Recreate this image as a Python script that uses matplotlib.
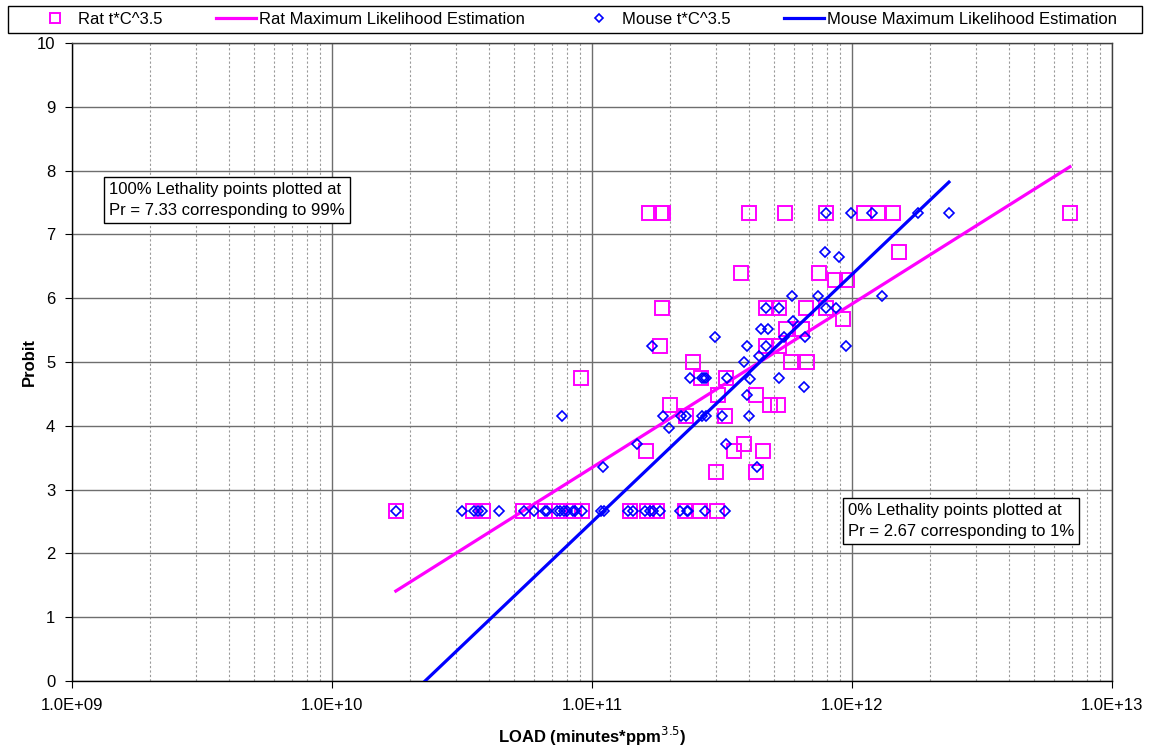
import math
import matplotlib
matplotlib.use("Agg")
import matplotlib.pyplot as plt
from matplotlib.patches import Rectangle
from matplotlib.ticker import LogLocator, FixedLocator, FuncFormatter, NullFormatter

plt.rcParams['font.family'] = ['Liberation Sans', 'DejaVu Sans']

# Rat data (t*C^3.5 load, probit)
rat_load = [1.66e11, 1.84e11, 1.87e11, 4.02e11, 5.52e11, 7.94e11, 1.11e12, 1.26e12, 1.44e12, 6.89e12,
            1.52e12,
            3.74e11, 7.46e11,
            8.60e11, 9.57e11,
            1.86e11, 4.67e11, 5.24e11, 6.65e11, 7.94e11,
            9.23e11,
            5.57e11, 6.42e11,
            1.83e11, 4.67e11, 5.24e11,
            2.45e11, 5.82e11, 6.71e11,
            9.07e10, 2.63e11, 3.28e11,
            3.05e11, 4.27e11,
            2.00e11, 4.84e11, 5.19e11,
            2.30e11, 3.25e11,
            3.84e11,
            1.61e11, 3.52e11, 4.55e11,
            3.00e11, 4.27e11,
            1.76e10, 3.49e10, 3.81e10, 5.43e10, 6.59e10, 7.46e10, 8.53e10, 9.16e10,
            1.40e11, 1.63e11, 1.78e11, 2.28e11, 2.60e11, 3.03e11]
rat_probit = [7.33] * 10 + [6.73] + [6.39] * 2 + [6.28] * 2 + [5.84] * 5 + [5.67] + [5.52] * 2 + \
             [5.25] * 3 + [5.0] * 3 + [4.75] * 3 + [4.48] * 2 + [4.33] * 3 + [4.16] * 2 + [3.72] + \
             [3.61] * 3 + [3.27] * 2 + [2.67] * 14

# Mouse data
mouse_load = [7.94e11, 9.91e11, 1.19e12, 1.79e12, 2.36e12,
              7.87e11,
              8.91e11,
              5.88e11, 7.40e11, 1.31e12,
              4.67e11, 5.24e11, 7.94e11, 8.68e11,
              5.93e11,
              4.47e11, 4.75e11,
              2.97e11, 5.47e11, 6.59e11,
              1.70e11, 3.95e11, 4.67e11, 9.48e11,
              4.39e11,
              3.84e11,
              2.38e11, 2.65e11, 2.70e11, 2.74e11, 3.31e11, 5.24e11,
              4.05e11,
              6.54e11,
              3.95e11,
              7.67e10, 1.87e11, 2.20e11, 2.30e11, 2.65e11, 2.74e11, 3.16e11, 4.02e11,
              1.98e11,
              1.49e11, 3.28e11,
              1.10e11, 4.31e11,
              1.76e10, 3.16e10, 3.52e10, 3.64e10, 3.78e10, 4.39e10, 5.48e10, 5.98e10, 6.59e10, 6.71e10,
              7.33e10, 7.53e10, 7.80e10, 8.02e10, 8.45e10, 8.61e10, 9.16e10, 1.08e11, 1.11e11,
              1.38e11, 1.44e11, 1.60e11, 1.67e11, 1.72e11, 1.83e11, 2.18e11, 2.32e11, 2.34e11,
              2.72e11, 3.25e11]
mouse_probit = [7.33] * 5 + [6.72] + [6.64] + [6.04] * 3 + [5.84] * 4 + [5.64] + [5.52] * 2 + \
               [5.39] * 3 + [5.25] * 4 + [5.10] + [5.0] + [4.75] * 6 + [4.73] + [4.61] + [4.48] + \
               [4.16] * 8 + [3.97] + [3.72] * 2 + [3.36] * 2 + [2.67] * 30

# Maximum likelihood fit lines (end points)
rat_fit_load = [1.76e10, 6.89e12]
rat_fit_probit = [1.41, 8.06]
mouse_fit_load = [2.28e10, 2.36e12]
mouse_fit_probit = [0.0, 7.82]

fig = plt.figure(figsize=(11.49, 7.5), dpi=100)
ax = fig.add_axes([72 / 1149, 69 / 750, 1040 / 1149, 638 / 750])

ax.plot(rat_load, rat_probit, linestyle='none', marker='s', markersize=10,
        markerfacecolor='none', markeredgecolor='#FF00FF', markeredgewidth=1.4,
        label='Rat t*C^3.5', zorder=3)
ax.plot(rat_fit_load, rat_fit_probit, color='#FF00FF', linewidth=2.3,
        label='Rat Maximum Likelihood Estimation', zorder=4)
ax.plot(mouse_load, mouse_probit, linestyle='none', marker='D', markersize=5.5,
        markerfacecolor='none', markeredgecolor='#0000FF', markeredgewidth=1.2,
        label='Mouse t*C^3.5', zorder=5)
ax.plot(mouse_fit_load, mouse_fit_probit, color='#0000FF', linewidth=2.3,
        label='Mouse Maximum Likelihood Estimation', zorder=6)

ax.set_xscale('log')
ax.set_xlim(1e9, 1e13)
ax.set_ylim(0, 10)
ax.xaxis.set_major_locator(LogLocator(base=10, numticks=10))
ax.xaxis.set_minor_locator(LogLocator(base=10, subs=range(2, 10), numticks=50))
ax.xaxis.set_major_formatter(FuncFormatter(lambda v, p: '1.0E+%02d' % round(math.log10(v))))
ax.xaxis.set_minor_formatter(NullFormatter())
ax.yaxis.set_major_locator(FixedLocator(range(0, 11)))

ax.grid(which='major', color='#6e6e6e', linewidth=1.0, linestyle='-')
ax.grid(which='minor', axis='x', color='#9a9a9a', linewidth=0.8, linestyle=(0, (2, 2)))
ax.set_axisbelow(True)
ax.tick_params(axis='both', which='major', direction='out', length=5, labelsize=12, pad=7)
ax.tick_params(axis='x', which='minor', length=0)
for s in ax.spines.values():
    s.set_color('#404040')
    s.set_linewidth(1.0)
ax.spines['left'].set_color('black')
ax.spines['bottom'].set_color('black')

ax.set_xlabel('LOAD (minutes*ppm$^{3.5}$)', fontsize=12, fontweight='bold', labelpad=9)
ax.set_ylabel('Probit', fontsize=12, fontweight='bold', labelpad=0)

box = dict(boxstyle='square,pad=0.3', facecolor='white', edgecolor='black', linewidth=1.0)
ax.text(0.0356, 0.782, '100% Lethality points plotted at\nPr = 7.33 corresponding to 99%',
        transform=ax.transAxes, ha='left', va='top', fontsize=12, linespacing=1.5,
        bbox=box, zorder=10)
ax.text(0.746, 0.279, '0% Lethality points plotted at\nPr = 2.67 corresponding to 1%',
        transform=ax.transAxes, ha='left', va='top', fontsize=12, linespacing=1.5,
        bbox=box, zorder=10)

# legend strip across the top
fig.patches.append(Rectangle((8 / 1149, 1 - 33 / 750), 1134 / 1149, 27 / 750,
                             transform=fig.transFigure, facecolor='white',
                             edgecolor='black', linewidth=1.0))
leg = fig.legend(loc='center', bbox_to_anchor=(576 / 1149, 1 - 19 / 750),
                 ncol=4, fontsize=12, frameon=False, handlelength=2.4,
                 handletextpad=0.2, columnspacing=3.2, borderaxespad=0,
                 markerscale=0.75)

fig.savefig('out.png', dpi=100)
